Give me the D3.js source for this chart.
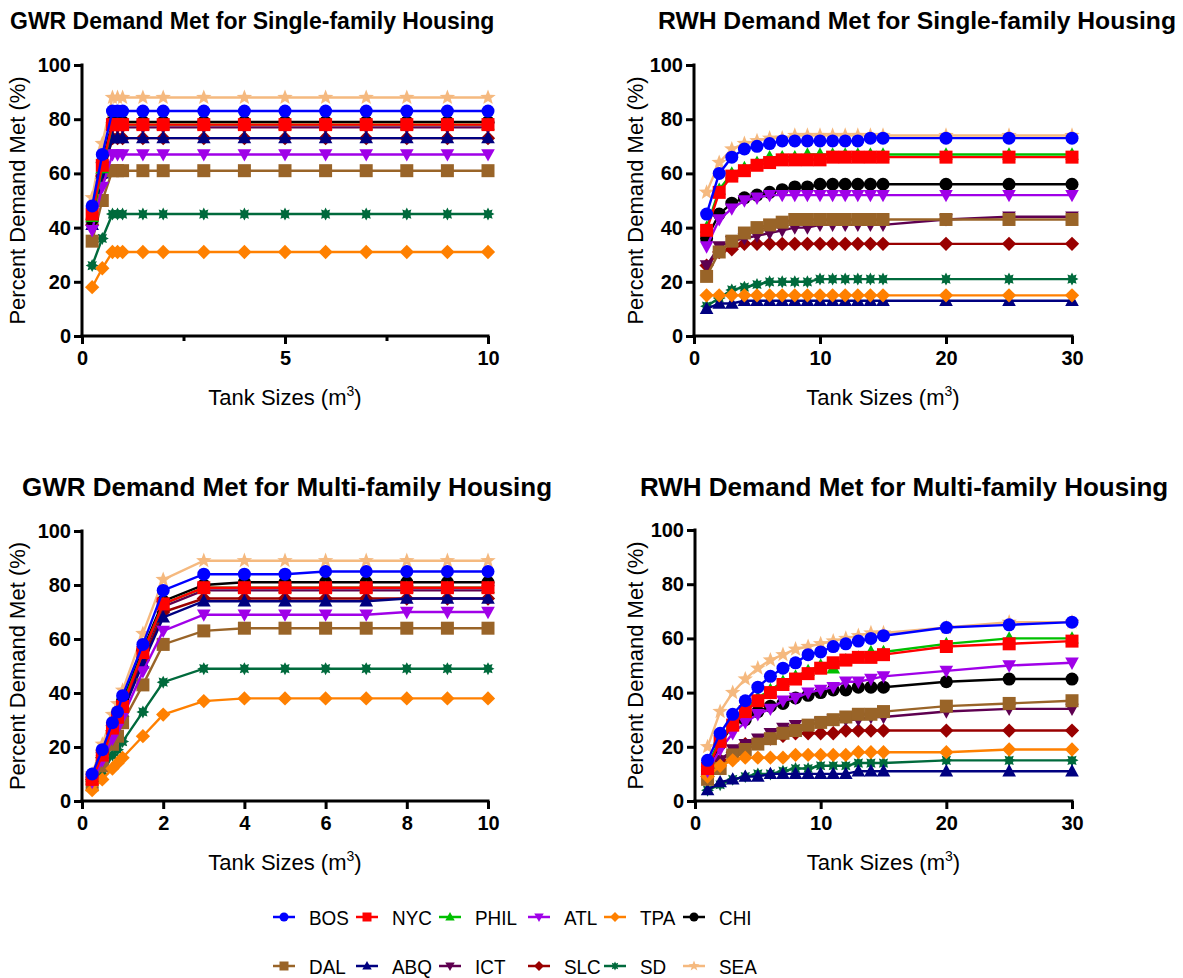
<!DOCTYPE html>
<html>
<head>
<meta charset="utf-8">
<script src="https://cdn.jsdelivr.net/npm/d3@7"></script>
<style>
  body { margin: 0; background: #fff; }
  text { font-family: "Liberation Sans", Arial, sans-serif; }
</style>
</head>
<body>
<div id="chart"></div>
<script>
// Cities, in legend order
var cities = ['BOS', 'NYC', 'PHIL', 'ATL', 'TPA', 'CHI', 'DAL', 'ABQ', 'ICT', 'SLC', 'SD', 'SEA']

// Tank sizes (m3)
var gwrSizes = [0.25, 0.5, 0.75, 0.875, 1, 1.5, 2, 3, 4, 5, 6, 7, 8, 9, 10]
var rwhSizes = [1, 2, 3, 4, 5, 6, 7, 8, 9, 10, 11, 12, 13, 14, 15, 20, 25, 30]

// Percent demand met, one row per city (same order as cities)
var gwrSingle = [
  [48, 67, 83, 83, 83, 83, 83, 83, 83, 83, 83, 83, 83, 83, 83],
  [45, 63, 78, 78, 78, 78, 78, 78, 78, 78, 78, 78, 78, 78, 78],
  [44, 62, 78, 78, 78, 78, 78, 78, 78, 78, 78, 78, 78, 78, 78],
  [39, 55, 67, 67, 67, 67, 67, 67, 67, 67, 67, 67, 67, 67, 67],
  [18, 25, 31, 31, 31, 31, 31, 31, 31, 31, 31, 31, 31, 31, 31],
  [43, 64, 79, 79, 79, 79, 79, 79, 79, 79, 79, 79, 79, 79, 79],
  [35, 50, 61, 61, 61, 61, 61, 61, 61, 61, 61, 61, 61, 61, 61],
  [41, 60, 73, 73, 73, 73, 73, 73, 73, 73, 73, 73, 73, 73, 73],
  [40, 58, 77, 77, 77, 77, 77, 77, 77, 77, 77, 77, 77, 77, 77],
  [41, 59, 73, 73, 73, 73, 73, 73, 73, 73, 73, 73, 73, 73, 73],
  [26, 36, 45, 45, 45, 45, 45, 45, 45, 45, 45, 45, 45, 45, 45],
  [51, 71, 88, 88, 88, 88, 88, 88, 88, 88, 88, 88, 88, 88, 88]
]

var rwhSingle = [
  [45, 60, 66, 69, 70, 71, 72, 72, 72, 72, 72, 72, 72, 73, 73, 73, 73, 73],
  [39, 53, 59, 61, 63, 64, 65, 65, 65, 65, 66, 66, 66, 66, 66, 66, 66, 66],
  [40, 54, 60, 62, 64, 66, 66, 66, 67, 67, 67, 67, 67, 67, 67, 67, 67, 67],
  [33, 43, 47, 50, 51, 52, 52, 52, 52, 52, 52, 52, 52, 52, 52, 52, 52, 52],
  [15, 15, 15, 15, 15, 15, 15, 15, 15, 15, 15, 15, 15, 15, 15, 15, 15, 15],
  [36, 45, 49, 51, 52, 53, 54, 55, 55, 56, 56, 56, 56, 56, 56, 56, 56, 56],
  [22, 31, 35, 38, 40, 41, 42, 43, 43, 43, 43, 43, 43, 43, 43, 43, 43, 43],
  [10, 12, 12, 13, 13, 13, 13, 13, 13, 13, 13, 13, 13, 13, 13, 13, 13, 13],
  [26, 33, 35, 36, 37, 38, 39, 40, 40, 41, 41, 41, 41, 41, 41, 43, 44, 44],
  [26, 31, 32, 34, 34, 34, 34, 34, 34, 34, 34, 34, 34, 34, 34, 34, 34, 34],
  [11, 14, 17, 18, 19, 20, 20, 20, 20, 21, 21, 21, 21, 21, 21, 21, 21, 21],
  [53, 64, 69, 71, 72, 73, 73, 74, 74, 74, 74, 74, 74, 74, 74, 74, 74, 74]
]

var gwrMulti = [
  [10, 19, 29, 33, 39, 58, 78, 84, 84, 84, 85, 85, 85, 85, 85],
  [8, 17, 27, 31, 35, 55, 73, 79, 79, 79, 79, 79, 79, 79, 79],
  [9, 18, 27, 31, 36, 55, 73, 79, 79, 79, 79, 79, 79, 79, 79],
  [7, 15, 23, 27, 31, 48, 63, 69, 69, 69, 69, 69, 70, 70, 70],
  [4, 8, 12, 14, 16, 24, 32, 37, 38, 38, 38, 38, 38, 38, 38],
  [9, 18, 28, 32, 37, 56, 74, 80, 81, 81, 81, 81, 81, 81, 81],
  [6, 13, 21, 24, 29, 43, 58, 63, 64, 64, 64, 64, 64, 64, 64],
  [8, 16, 25, 29, 33, 51, 68, 74, 74, 74, 74, 74, 75, 75, 75],
  [8, 17, 26, 30, 35, 54, 72, 78, 78, 78, 78, 78, 78, 78, 78],
  [8, 16, 26, 29, 34, 52, 70, 75, 75, 75, 75, 75, 75, 75, 75],
  [5, 10, 17, 19, 22, 33, 44, 49, 49, 49, 49, 49, 49, 49, 49],
  [10, 21, 32, 36, 41, 62, 82, 89, 89, 89, 89, 89, 89, 89, 89]
]

var rwhMulti = [
  [15, 25, 32, 37, 42, 46, 49, 51, 54, 55, 57, 58, 59, 60, 61, 64, 65, 66],
  [12, 22, 28, 33, 37, 40, 43, 45, 47, 49, 51, 52, 53, 53, 54, 57, 58, 59],
  [13, 23, 29, 34, 38, 41, 44, 46, 48, 50, 49, 52, 53, 55, 55, 58, 60, 60],
  [11, 19, 25, 29, 32, 34, 37, 38, 40, 41, 42, 44, 44, 45, 46, 48, 50, 51],
  [9, 13, 15, 16, 16, 16, 16, 17, 17, 17, 17, 17, 18, 18, 18, 18, 19, 19],
  [11, 21, 28, 30, 33, 35, 36, 38, 39, 40, 41, 41, 42, 42, 42, 44, 45, 45],
  [8, 12, 17, 19, 21, 23, 25, 26, 28, 29, 30, 31, 32, 32, 33, 35, 36, 37],
  [4, 7, 8, 9, 9, 10, 10, 10, 10, 10, 10, 10, 11, 11, 11, 11, 11, 11],
  [8, 15, 19, 21, 23, 25, 27, 28, 28, 29, 30, 30, 30, 31, 31, 33, 34, 34],
  [9, 15, 18, 21, 22, 23, 24, 25, 25, 25, 25, 26, 26, 26, 26, 26, 26, 26],
  [4, 6, 8, 9, 10, 10, 11, 12, 12, 13, 13, 13, 14, 14, 14, 15, 15, 15],
  [20, 33, 40, 45, 49, 52, 54, 56, 57, 58, 59, 60, 61, 62, 62, 64, 66, 66]
]

var yTicks = [0, 20, 40, 60, 80, 100]

// Styles
var colors = ['#0000ff', '#ff0000', '#00c000', '#a000e8', '#ff8000', '#000000',
  '#996428', '#000080', '#5e0050', '#990000', '#006a3c', '#f5b97f']
var shapes = ['circle', 'square', 'triangle', 'triangleDown', 'diamond', 'circle',
  'square', 'triangle', 'triangleDown', 'diamond', 'burst', 'star']

// Marker path centered on 0,0 with radius r
function shapePath(name, r) {
  var p = d3.path()
  if (name === 'circle') {
    p.arc(0, 0, r, 0, 2 * Math.PI)
  } else if (name === 'square') {
    p.rect(-r, -r, 2 * r, 2 * r)
  } else if (name === 'triangle') {
    p.moveTo(0, -r * 1.1); p.lineTo(r * 1.05, r * 0.8); p.lineTo(-r * 1.05, r * 0.8); p.closePath()
  } else if (name === 'triangleDown') {
    p.moveTo(0, r * 1.1); p.lineTo(r * 1.05, -r * 0.8); p.lineTo(-r * 1.05, -r * 0.8); p.closePath()
  } else if (name === 'diamond') {
    p.moveTo(0, -r * 1.1); p.lineTo(r * 1.1, 0); p.lineTo(0, r * 1.1); p.lineTo(-r * 1.1, 0); p.closePath()
  } else if (name === 'burst' || name === 'star') {
    var n = name === 'star' ? 5 : 8
    var outer = name === 'star' ? r * 1.25 : r
    var inner = name === 'star' ? outer * 0.42 : outer * 0.6
    for (var k = 0; k < 2 * n; k++) {
      var rad = k % 2 === 0 ? outer : inner
      var a = -Math.PI / 2 + k * Math.PI / n
      if (k === 0) p.moveTo(rad * Math.cos(a), rad * Math.sin(a))
      else p.lineTo(rad * Math.cos(a), rad * Math.sin(a))
    }
    p.closePath()
  }
  return p.toString()
}

var panels = [
  { title: 'GWR Demand Met for Single-family Housing', tx: 10, ty: 29, tsize: 23,
    sizes: gwrSizes, values: gwrSingle, xMax: 10, xTicks: [0, 2.5, 5, 7.5, 10], xLabels: [0, 5, 10],
    left: 82, right: 488, top: 65, bottom: 336, yLabelX: 25 },
  { title: 'RWH Demand Met for Single-family Housing', tx: 658, ty: 29, tsize: 24.7,
    sizes: rwhSizes, values: rwhSingle, xMax: 30, xTicks: [0, 10, 20, 30], xLabels: [0, 10, 20, 30],
    left: 694, right: 1072, top: 65, bottom: 336, yLabelX: 643 },
  { title: 'GWR Demand Met for Multi-family Housing', tx: 22, ty: 496, tsize: 26,
    sizes: gwrSizes, values: gwrMulti, xMax: 10, xTicks: [0, 2, 4, 6, 8, 10], xLabels: [0, 2, 4, 6, 8, 10],
    left: 82, right: 488, top: 531, bottom: 801, yLabelX: 25 },
  { title: 'RWH Demand Met for Multi-family Housing', tx: 640, ty: 496, tsize: 26,
    sizes: rwhSizes, values: rwhMulti, xMax: 30, xTicks: [0, 10, 20, 30], xLabels: [0, 10, 20, 30],
    left: 695, right: 1072, top: 530, bottom: 801, yLabelX: 643 }
]

var width = 1183
var height = 978

var svg = d3.select('#chart').append('svg')
  .attr('width', width)
  .attr('height', height)

panels.forEach(function (pn) {
  var x = d3.scaleLinear().domain([0, pn.xMax]).range([pn.left, pn.right])
  var y = d3.scaleLinear().domain([0, 100]).range([pn.bottom, pn.top])
  var g = svg.append('g').attr('class', 'panel')

  // Title
  g.append('text')
    .attr('x', pn.tx)
    .attr('y', pn.ty)
    .attr('font-size', pn.tsize)
    .attr('font-weight', 'bold')
    .text(pn.title)

  // Axes
  var xAxis = d3.axisBottom(x)
    .tickValues(pn.xTicks)
    .tickSize(8)
    .tickPadding(7)
    .tickFormat(function (d) { return pn.xLabels.indexOf(d) >= 0 ? d : '' })
  var gx = g.append('g')
    .attr('transform', 'translate(0,' + pn.bottom + ')')
    .call(xAxis)
  gx.selectAll('.tick line')
    .attr('y2', function (d) { return pn.xLabels.indexOf(d) >= 0 ? 8 : 5 })

  var yAxis = d3.axisLeft(y)
    .tickValues(yTicks)
    .tickSize(8)
    .tickPadding(3)
  var gy = g.append('g')
    .attr('transform', 'translate(' + pn.left + ',0)')
    .call(yAxis)

  g.selectAll('.domain, .tick line')
    .attr('stroke', '#000')
    .attr('stroke-width', 3)
  gx.select('.domain').attr('d', 'M' + (pn.left - 1.5) + ',0H' + (pn.right + 1.5))
  gy.select('.domain').attr('d', 'M0,' + (pn.bottom + 1.5) + 'V' + (pn.top - 1.5))
  g.selectAll('.tick text')
    .attr('font-family', '"Liberation Sans", Arial, sans-serif')
    .attr('font-size', 20)
    .attr('font-weight', 'bold')
    .attr('fill', '#000')

  // Axis labels
  g.append('text')
    .attr('x', (pn.left + pn.right) / 2)
    .attr('y', pn.bottom + 69)
    .attr('text-anchor', 'middle')
    .attr('font-size', 22)
    .call(function (t) {
      t.append('tspan').text('Tank Sizes (m')
      t.append('tspan').attr('font-size', 14).attr('dy', -9).text('3')
      t.append('tspan').attr('dy', 9).text(')')
    })

  g.append('text')
    .attr('transform', 'translate(' + pn.yLabelX + ',' + (pn.top + pn.bottom) / 2 + ') rotate(-90)')
    .attr('text-anchor', 'middle')
    .attr('font-size', 22)
    .text('Percent Demand Met (%)')

  // Series, drawn from last to first so BOS sits on top
  var line = d3.line()
    .x(function (d) { return x(d[0]) })
    .y(function (d) { return y(d[1]) })

  d3.range(cities.length - 1, -1, -1).forEach(function (ci) {
    var pts = pn.sizes.map(function (s, i) { return [s, pn.values[ci][i]] })
    var sg = g.append('g').attr('class', 'series ' + cities[ci])
    sg.append('path')
      .datum(pts)
      .attr('fill', 'none')
      .attr('stroke', colors[ci])
      .attr('stroke-width', 2.4)
      .attr('d', line)
    sg.selectAll('.marker')
      .data(pts)
      .enter().append('path')
      .attr('class', 'marker')
      .attr('transform', function (d) { return 'translate(' + x(d[0]) + ',' + y(d[1]) + ')' })
      .attr('fill', colors[ci])
      .attr('d', shapePath(shapes[ci], 6.5))
  })
})

// Legend: two rows of six
var legendCols = [273, 356, 439, 528, 604, 683]
var legendRows = [917, 966]
var legend = svg.append('g').attr('class', 'legend')
cities.forEach(function (c, i) {
  var lx = legendCols[i % 6]
  var ly = legendRows[Math.floor(i / 6)]
  var item = legend.append('g').attr('transform', 'translate(' + lx + ',' + ly + ')')
  item.append('line')
    .attr('x1', 0).attr('x2', 22)
    .attr('stroke', colors[i])
    .attr('stroke-width', 2.5)
  item.append('path')
    .attr('transform', 'translate(11,0)')
    .attr('fill', colors[i])
    .attr('d', shapePath(shapes[i], 4.5))
  item.append('text')
    .attr('transform', 'translate(36,8) scale(0.9,1)')
    .attr('font-size', 21)
    .text(c)
})
</script>
</body>
</html>
